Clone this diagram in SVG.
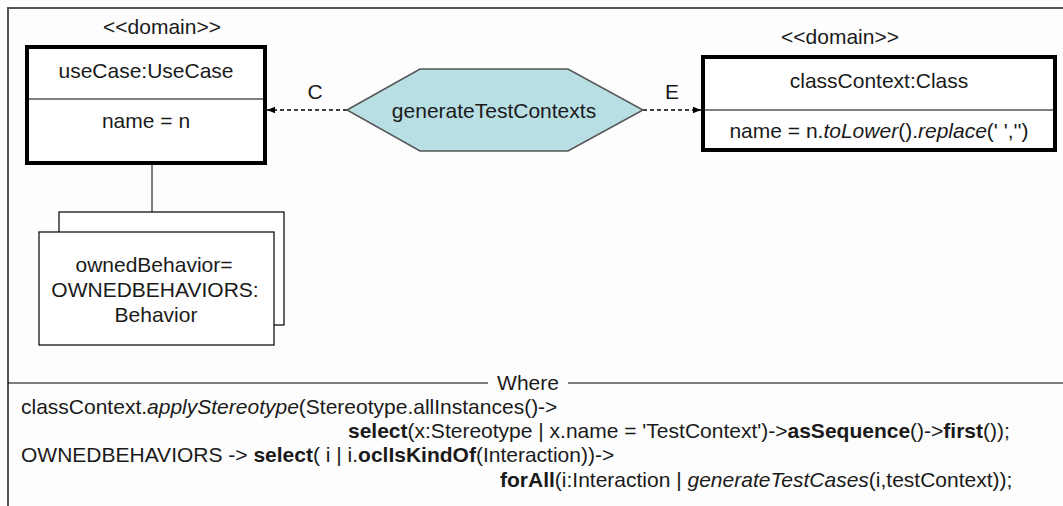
<svg xmlns="http://www.w3.org/2000/svg" width="1063" height="506" viewBox="0 0 1063 506">
<defs>
<style>
text{font-family:"Liberation Sans",Arial,sans-serif;font-size:21px;fill:#1a1a1a}
.c{text-anchor:middle}
.b{font-weight:bold}
.i{font-style:italic}
.box{fill:#fff;stroke:#000;stroke-width:4}
.thin{stroke:#000;stroke-width:1;fill:none}
.dash{stroke:#000;stroke-width:1.3;stroke-dasharray:4 3;fill:none}
.beh{fill:#fff;stroke:#000;stroke-width:1.2}
</style>
<marker id="ah" viewBox="0 0 10 10" refX="10" refY="5" markerWidth="8" markerHeight="8" orient="auto" markerUnits="userSpaceOnUse"><path d="M0,1 L10,5 L0,9 z" fill="#000"/></marker>
</defs>
<rect width="1063" height="506" fill="#fdfdfd"/>
<path d="M1063,8 H8 V506" fill="none" stroke="#555" stroke-width="2"/>

<g id="connectors">
<line class="dash" x1="347" y1="110" x2="267" y2="110" marker-end="url(#ah)"/>
<line class="dash" x1="643" y1="110" x2="701" y2="110" marker-end="url(#ah)"/>
<line class="thin" x1="152" y1="163" x2="152" y2="232"/>
<text x="315" y="99" class="c">C</text>
<text x="672" y="99" class="c">E</text>
</g>

<g id="useCase">
<text class="c" x="162" y="34">&lt;&lt;domain&gt;&gt;</text>
<rect class="box" x="27" y="47" width="238" height="116"/>
<line class="thin" x1="27" y1="99" x2="265" y2="99"/>
<text class="c" x="146" y="78">useCase:UseCase</text>
<text class="c" x="146" y="128">name = n</text>
</g>

<g id="generateTestContexts">
<polygon points="347,110 420,69 568,69 643,110 568,151 420,151" fill="#b8dfe4" stroke="#555" stroke-width="1.5"/>
<text class="c" x="494" y="118">generateTestContexts</text>
</g>

<g id="classContext">
<text class="c" x="840" y="44">&lt;&lt;domain&gt;&gt;</text>
<rect class="box" x="703" y="57" width="352" height="93"/>
<line class="thin" x1="703" y1="110" x2="1055" y2="110"/>
<text class="c" x="879" y="88">classContext:Class</text>
<text class="c" x="879" y="138">name = n.<tspan class="i">toLower</tspan>().<tspan class="i">replace</tspan>(' ','')</text>
</g>

<g id="ownedBehavior">
<rect class="beh" x="59" y="212" width="225" height="113"/>
<rect class="beh" x="39" y="232" width="235" height="113"/>
<text class="c" x="154" y="272">ownedBehavior=</text>
<text class="c" x="155" y="297">OWNEDBEHAVIORS:</text>
<text class="c" x="156" y="322">Behavior</text>
</g>

<g id="where">
<line class="thin" x1="8" y1="383" x2="488" y2="383"/>
<line class="thin" x1="568" y1="383" x2="1063" y2="383"/>
<text class="c" x="528" y="390">Where</text>
<text x="21" y="414">classContext.<tspan class="i">applyStereotype</tspan>(Stereotype.allInstances()-&gt;</text>
<text x="348" y="438"><tspan class="b">select</tspan>(x:Stereotype | x.name = 'TestContext')-&gt;<tspan class="b">asSequence</tspan>()-&gt;<tspan class="b">first</tspan>());</text>
<text x="21" y="462">OWNEDBEHAVIORS -&gt; <tspan class="b">select</tspan>( i | i.<tspan class="b">oclIsKindOf</tspan>(Interaction))-&gt;</text>
<text x="500" y="487"><tspan class="b">forAll</tspan>(i:Interaction | <tspan class="i">generateTestCases</tspan>(i,testContext));</text>
</g>
</svg>
